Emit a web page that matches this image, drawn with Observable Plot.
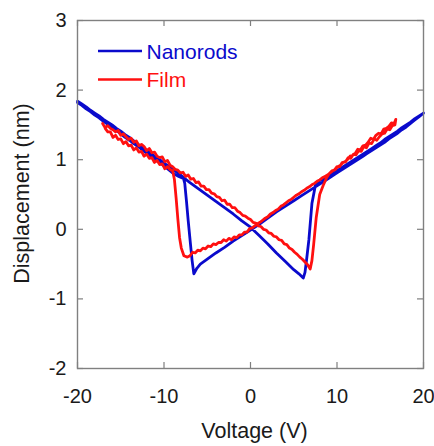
<!DOCTYPE html>
<html><head><meta charset="utf-8">
<script src="https://cdn.jsdelivr.net/npm/d3@7"></script>
<script src="https://cdn.jsdelivr.net/npm/@observablehq/plot@0.6"></script>
<style>
body{margin:0;background:#fff;}
#chart{width:434px;height:446px;}
</style>
</head><body><div id="chart"></div>
<script>
const seriesNames = ["Nanorods", "Film"];
const seriesColors = ["#0a0acc", "#ff1010"];
const xTicks = [-20, -10, 0, 10, 20];
const yTicks = [-2, -1, 0, 1, 2, 3];
const xLabel = "Voltage (V)";
const yLabel = "Displacement (nm)";

const nanorodsVoltage = [
 -20,-19.5,-19,-18.5,-18,-17.5,-17,-16.5,-16,-15.5,-15,-14.5,-14,-13.5,-13,-12.5,-12,-11.5,-11,-10.5,-10,-9.5,-9,-8.5,-8,-7.7,
 -7,-6,-5,-4,-3,-2,-1,0,1,2,3,4,5,5.6,6.1,
 6.3,6.5,6.75,7.1,7.5,8.0,8.5,
 9,9.5,10,10.5,11,11.5,12,12.5,13,13.5,14,14.5,15,15.5,16,16.5,17,17.5,18,18.5,19,19.5,20,
 19.5,19,18.5,18,17.5,17,16.5,16,15.5,15,14.5,14,13.5,13,12.5,12,11.5,11,10.5,10,
 9,8,7,6,5,4,3,2,1,0,-1,-2,-3,-4,-5,-5.8,-6.2,-6.55,
 -6.75,-6.95,-7.2,-7.4,-7.6,-7.75,-8.3,-8.9,
 -9.5,-10,-10.5,-11,-11.5,-12,-12.5,-13,-13.5,-14,-14.5,-15,-15.5,-16,-16.5,-17,-17.5,-18,-18.5,-19,-19.5,-20
];
const nanorodsDisp = [
 1.84,1.80,1.76,1.71,1.67,1.63,1.58,1.54,1.50,1.45,1.41,1.36,1.32,1.27,1.22,1.18,1.13,1.09,1.04,1.00,0.95,0.91,0.86,0.82,0.77,0.74,
 0.67,0.58,0.49,0.40,0.31,0.22,0.12,0.03,-0.09,-0.21,-0.34,-0.46,-0.58,-0.64,-0.70,
 -0.62,-0.42,-0.15,0.37,0.63,0.70,0.73,
 0.77,0.81,0.84,0.88,0.92,0.96,1.00,1.04,1.08,1.12,1.16,1.20,1.24,1.29,1.33,1.37,1.41,1.46,1.50,1.54,1.59,1.63,1.67,
 1.62,1.57,1.52,1.47,1.43,1.38,1.34,1.30,1.25,1.21,1.17,1.13,1.09,1.05,1.01,0.97,0.93,0.89,0.85,0.81,
 0.73,0.65,0.57,0.49,0.41,0.33,0.25,0.16,0.07,-0.01,-0.09,-0.17,-0.26,-0.34,-0.43,-0.50,-0.56,-0.64,
 -0.45,-0.20,0.12,0.40,0.66,0.73,0.76,0.80,
 0.86,0.91,0.96,1.00,1.05,1.09,1.14,1.19,1.23,1.28,1.32,1.37,1.42,1.46,1.51,1.55,1.60,1.64,1.69,1.73,1.78,1.82
];

const filmVoltage = [
 -17.1,-16.8,-16.5,-16.2,-15.9,-15.6,-15.3,-15.0,-14.7,-14.4,-14.1,-13.8,-13.5,-13.2,-12.9,-12.6,-12.3,-12.0,-11.7,-11.4,-11.1,-10.8,-10.5,-10.2,-9.9,-9.6,-9.3,-9.0,
 -8.7,-8.4,-8.1,-7.8,-7.5,-7.2,-6.9,-6.6,-6.3,-6.0,-5.7,-5.4,-5.1,-4.8,-4.5,-4.2,-3.9,-3.6,-3.3,-3.0,-2.7,-2.4,-2.1,-1.8,-1.5,-1.2,-0.9,-0.6,-0.3,
 0.0,0.3,0.6,0.9,1.2,1.5,1.8,2.1,2.4,2.7,3.0,3.3,3.6,3.9,4.2,4.5,4.8,5.1,5.4,5.7,6.0,6.3,6.6,6.9,
 7.1,7.3,7.6,8.0,8.4,8.8,
 9.1,9.4,9.7,10.0,10.3,10.6,10.9,11.2,11.5,11.8,12.1,12.4,12.7,13.0,13.3,13.6,13.9,14.2,14.5,14.8,15.1,15.4,15.7,16.0,16.3,16.6,16.8,
 16.7,16.4,16.1,15.8,15.5,15.2,14.9,14.6,14.3,14.0,13.7,13.4,13.1,12.8,12.5,12.2,11.9,11.6,11.3,11.0,10.7,10.4,10.1,9.8,9.5,9.2,8.9,
 8.6,8.3,8.0,7.7,7.4,7.1,6.8,6.5,6.2,5.9,5.6,5.3,5.0,4.7,4.4,4.1,3.8,3.5,3.2,2.9,2.6,2.3,2.0,1.7,1.4,1.1,0.8,0.5,0.2,
 -0.1,-0.4,-0.7,-1.0,-1.3,-1.6,-1.9,-2.2,-2.5,-2.8,-3.1,-3.4,-3.7,-4.0,-4.3,-4.6,-4.9,-5.2,-5.5,-5.8,-6.1,-6.4,-6.7,-7.0,-7.3,
 -7.7,-8.0,-8.2,-8.4,-8.6,-8.8,-9.0,
 -9.3,-9.6,-9.9,-10.2,-10.5,-10.8,-11.1,-11.4,-11.7,-12.0,-12.3,-12.6,-12.9,-13.2,-13.5,-13.8,-14.1,-14.4,-14.7,-15.0,-15.3,-15.6,-15.9,-16.2,-16.5,-16.8
];
const filmDisp = [
 1.52,1.46,1.49,1.45,1.43,1.40,1.42,1.35,1.37,1.33,1.29,1.31,1.25,1.27,1.20,1.22,1.19,1.13,1.16,1.10,1.11,1.05,1.03,1.04,0.97,0.99,0.92,0.90,
 0.86,0.85,0.81,0.82,0.76,0.78,0.72,0.73,0.67,0.68,0.62,0.62,0.57,0.57,0.52,0.51,0.47,0.46,0.41,0.42,0.36,0.36,0.31,0.31,0.26,0.24,0.20,0.19,0.16,
 0.14,0.10,0.09,0.05,0.04,0.00,-0.01,-0.05,-0.06,-0.10,-0.11,-0.15,-0.16,-0.21,-0.22,-0.27,-0.29,-0.33,-0.36,-0.40,-0.43,-0.47,-0.51,-0.57,
 -0.45,-0.22,0.17,0.50,0.63,0.74,
 0.80,0.84,0.85,0.90,0.90,0.96,0.97,1.00,1.05,1.06,1.09,1.15,1.14,1.20,1.21,1.25,1.31,1.29,1.35,1.38,1.37,1.44,1.45,1.48,1.53,1.52,1.58,
 1.50,1.49,1.43,1.44,1.38,1.37,1.33,1.28,1.30,1.23,1.24,1.17,1.19,1.12,1.13,1.07,1.08,1.02,1.03,0.97,0.96,0.92,0.90,0.86,0.84,0.81,0.78,
 0.76,0.74,0.71,0.69,0.66,0.64,0.61,0.59,0.56,0.54,0.51,0.49,0.46,0.43,0.41,0.38,0.35,0.33,0.29,0.27,0.24,0.22,0.18,0.16,0.13,0.10,0.08,0.05,0.02,
 0.01,-0.04,-0.04,-0.08,-0.08,-0.12,-0.11,-0.15,-0.13,-0.17,-0.15,-0.19,-0.19,-0.22,-0.21,-0.25,-0.24,-0.28,-0.27,-0.31,-0.30,-0.34,-0.33,-0.38,-0.40,
 -0.38,-0.27,-0.12,0.15,0.45,0.72,0.84,
 0.86,0.90,0.87,0.94,0.93,0.99,0.96,1.03,1.02,1.08,1.05,1.12,1.11,1.17,1.14,1.21,1.20,1.26,1.23,1.30,1.29,1.35,1.32,1.40,1.40,1.45
];

const data = [
  ...nanorodsVoltage.map((v, i) => ({series: seriesNames[0], V: v, D: nanorodsDisp[i]})),
  ...filmVoltage.map((v, i) => ({series: seriesNames[1], V: v, D: filmDisp[i]}))
];

const font = "'Liberation Sans', Arial, sans-serif";
const W = 434, H = 446, mL = 77, mR = 11, mT = 20, mB = 78;
const innerW = W - mL - mR, innerH = H - mT - mB;
const tickLen = 6, tickColor = "#7f7f7f";
const fmt = d => String(d);

const plot = Plot.plot({
  width: W, height: H,
  marginLeft: mL, marginRight: mR, marginTop: mT, marginBottom: mB,
  style: {fontFamily: font, fontSize: "20px", background: "#fff", color: "#1a1a1a", overflow: "visible"},
  x: {domain: [-20, 20], label: null},
  y: {domain: [-2, 3], label: null},
  color: {domain: seriesNames, range: seriesColors},
  marks: [
    Plot.line(data, {x: "V", y: "D", z: "series", stroke: "series", strokeWidth: 2.8, strokeLinejoin: "round", strokeLinecap: "round"}),
    Plot.tickX(xTicks, {x: d => d, insetTop: innerH - tickLen, stroke: tickColor, strokeWidth: 1.2}),
    Plot.tickX(xTicks, {x: d => d, insetBottom: innerH - tickLen, stroke: tickColor, strokeWidth: 1.2}),
    Plot.tickY(yTicks, {y: d => d, insetRight: innerW - tickLen, stroke: tickColor, strokeWidth: 1.2}),
    Plot.tickY(yTicks, {y: d => d, insetLeft: innerW - tickLen, stroke: tickColor, strokeWidth: 1.2}),
    Plot.frame({stroke: "#808080", strokeWidth: 1.4}),
    Plot.axisX({anchor: "bottom", ticks: xTicks, tickFormat: fmt, tickSize: 0, tickPadding: 20, fontSize: 20, label: null, fill: "#1a1a1a"}),
    Plot.axisY({anchor: "left", ticks: yTicks, tickFormat: fmt, tickSize: 0, tickPadding: 11, fontSize: 20, label: null, fill: "#1a1a1a"}),
    Plot.text([xLabel], {text: d => d, frameAnchor: "bottom", textAnchor: "middle", lineAnchor: "top", dy: 54, dx: 4, fontSize: 21.5, fill: "#1a1a1a"}),
    Plot.text([yLabel], {text: d => d, frameAnchor: "left", textAnchor: "middle", rotate: -90, dx: -55, dy: -1, fontSize: 21.5, fill: "#1a1a1a"})
  ]
});
document.getElementById("chart").appendChild(plot);

// legend inside the plot frame
const svg = d3.select(plot);
const leg = svg.append("g").attr("font-family", font).attr("font-size", 21).attr("text-anchor", "start");
seriesNames.forEach((name, i) => {
  const y = 51 + i * 28.5;
  leg.append("line").attr("x1", 98).attr("x2", 142).attr("y1", y).attr("y2", y)
    .attr("stroke", seriesColors[i]).attr("stroke-width", 2.6);
  leg.append("text").attr("x", 146.5).attr("y", y).attr("dy", "0.36em")
    .attr("text-anchor", "start").attr("fill", seriesColors[i]).text(name);
});
</script>
</body></html>
